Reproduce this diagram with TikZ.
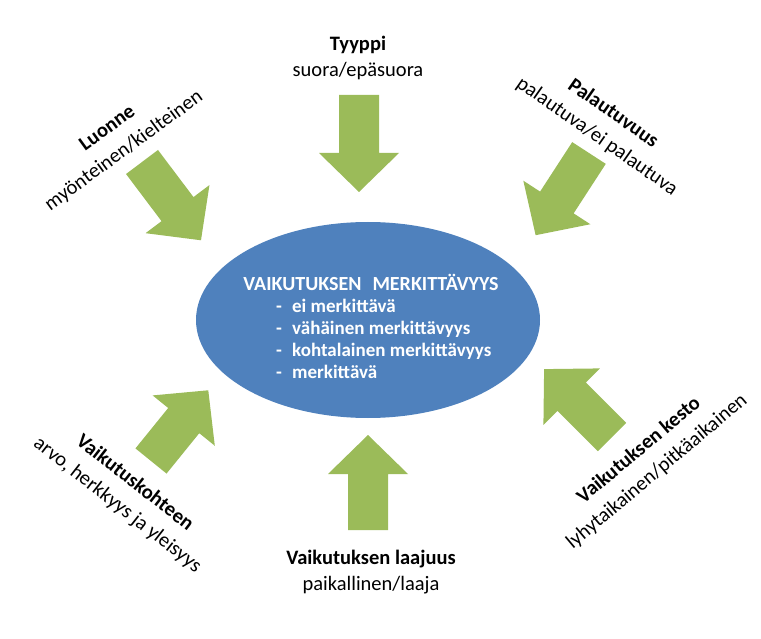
\documentclass[tikz,border=0pt]{standalone}
\usepackage{fontspec}
\setmainfont{Carlito}
\definecolor{ellblue}{RGB}{79, 129, 189}
\definecolor{arrowgreen}{RGB}{155, 187, 89}
\usetikzlibrary{shapes.geometric, positioning}

\tikzset{
  blockarrow/.pic={
    \fill[arrowgreen] (0,-20) -- ({#1-39},-20) -- ({#1-39},-40) -- (#1,0)
      -- ({#1-39},40) -- ({#1-39},20) -- (0,20) -- cycle;
  },
  factor/.style={align=center, inner sep=0pt, font=\fontsize{20.5}{25.5}\selectfont},
  tilted/.style={factor, font=\fontsize{20.5}{28}\selectfont},
}

\begin{document}
\begin{tikzpicture}[x=1pt, y=-1pt]
  \useasboundingbox (0,0) rectangle (761,639);

  % centre
  \node[ellipse, fill=ellblue, minimum width=344, minimum height=196, inner sep=0pt] (merk) at (368,320) {};
  \node[text=white, inner sep=0pt, font=\bfseries\fontsize{20}{24}\selectfont] (merkTitle) at (371,282) {VAIKUTUKSEN\hspace{0.55em}MERKITTÄVYYS};
  \node[text=white, inner sep=0pt, align=left, anchor=west, font=\bfseries\fontsize{19}{22}\selectfont] (merkList) at (276,339) {
    \makebox[16pt][l]{-}ei merkittävä\\
    \makebox[16pt][l]{-}vähäinen merkittävyys\\
    \makebox[16pt][l]{-}kohtalainen merkittävyys\\
    \makebox[16pt][l]{-}merkittävä};

  % arrows
  \pic[rotate=-90] (tyyppiArrow) at (359,95) {blockarrow=97};
  \pic[rotate=90] (laajuusArrow) at (368,530) {blockarrow=95};
  \pic[rotate=-53] (luonneArrow) at (142,162) {blockarrow=98};
  \pic[rotate=-123] (palautArrow) at (589,153) {blockarrow=98};
  \pic[rotate=51] (kohdeArrow) at (151,461) {blockarrow=91};
  \pic[rotate=135] (kestoArrow) at (612,437) {blockarrow=96};

  % labels
  \node[factor] (tyyppi) at (358,58) {\textbf{Tyyppi}\\suora/epäsuora};
  \node[factor] (laajuus) at (371,572) {\textbf{Vaikutuksen laajuus}\\paikallinen/laaja};
  \node[tilted, rotate=36] (luonne) at (116,140) {\textbf{Luonne}\\myönteinen/kielteinen};
  \node[tilted, rotate=-35] (palaut) at (605,125) {\textbf{Palautuvuus}\\palautuva/ei palautuva};
  \node[tilted, rotate=-38] (kohde) at (126,494) {\textbf{Vaikutuskohteen}\\arvo, herkkyys ja yleisyys};
  \node[tilted, rotate=40] (kesto) at (648,461) {\textbf{Vaikutuksen kesto}\\lyhytaikainen/pitkäaikainen};
\end{tikzpicture}
\end{document}
